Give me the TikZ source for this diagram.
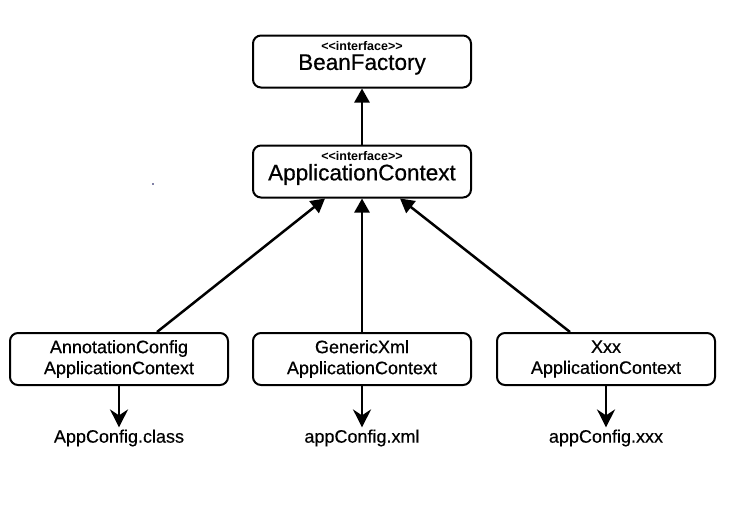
\documentclass[tikz,border=0pt]{standalone}
\usepackage{fontspec}
\setmainfont{Liberation Sans}
\newfontfamily\medfont{Liberation Sans}[FakeBold=0.6]
\newfontfamily\lblfont{Liberation Sans}[FakeBold=0.35]
\usetikzlibrary{arrows.meta,calc}
\begin{document}
\begin{tikzpicture}[x=1pt,y=-1pt,
  box/.style={draw=black,line width=2pt,rounded corners=8pt,minimum width=218pt,minimum height=52pt,align=center,inner sep=0pt,fill=white},
  iface/.style={font=\fontsize{12.5}{13}\selectfont\bfseries},
  big/.style={font=\fontsize{22.5}{24}\selectfont\medfont},
  boxtxt/.style={font=\fontsize{18}{21}\selectfont\medfont},
  lbl/.style={font=\fontsize{18}{21}\selectfont\lblfont,inner sep=2pt},
  up/.style={line width=2.5pt,-{Triangle[length=14pt,width=15pt]}},
  down/.style={line width=2.5pt,-{Stealth[length=18pt,width=18pt,inset=6pt]}}]
\useasboundingbox[fill=white] (0,0) rectangle (743,507);
\node[box] (bf) at (362,61.5) {};
\node[iface] (bft) at (362,46) {{<}{<}interface{>}{>}};
\node[big] (bfn) at (362,64.5) {BeanFactory};
\node[box] (ac) at (362,171.5) {};
\node[iface] (act) at (362,156) {{<}{<}interface{>}{>}};
\node[big] (acn) at (362,174.5) {ApplicationContext};
\node[box,boxtxt] (ann) at (119,359) {AnnotationConfig\\ApplicationContext};
\node[box,boxtxt] (gx) at (362,359) {GenericXml\\ApplicationContext};
\node[box,boxtxt] (xx) at (606,359) {Xxx\\ApplicationContext};
\node[lbl] (l1) at (119,438) {AppConfig.class};
\node[lbl] (l2) at (362,438) {appConfig.xml};
\node[lbl] (l3) at (606,438) {appConfig.xxx};
\draw[up] (ac.north) -- (bf.south);
\draw[up] (gx.north) -- (ac.south);
\draw[up] ($(ann.north)+(38,0)$) -- ($(ac.south)+(-37,0)$);
\draw[up] ($(xx.north)+(-36,0)$) -- ($(ac.south)+(38,0)$);
\draw[down] (ann.south) -- (l1.north);
\draw[down] (gx.south) -- (l2.north);
\draw[down] (xx.south) -- (l3.north);
\fill[black!70!blue] (153,184) circle (0.9pt);
\end{tikzpicture}
\end{document}
